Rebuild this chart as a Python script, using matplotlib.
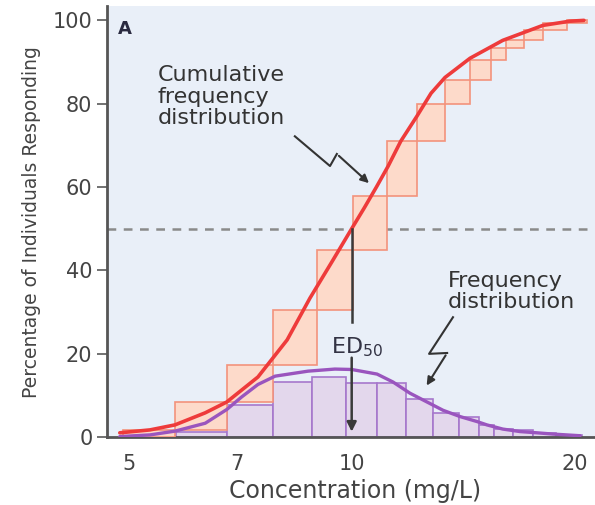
import numpy as np
import matplotlib
matplotlib.use('Agg')
import matplotlib.pyplot as plt
from matplotlib import ticker

# cumulative frequency step boxes: bin edges (mg/L) and running % at the end of each bin
cum_edges = [4.91, 5.77, 6.78, 7.83, 8.97, 10.04, 11.16, 12.25, 13.37, 14.45, 15.42, 16.16, 17.10, 18.13, 19.53, 20.79]
cum_pct = [1.7, 8.4, 17.2, 30.5, 45.0, 57.8, 71.0, 80.0, 85.6, 90.6, 93.3, 95.4, 97.8, 99.3, 100.0]

# frequency distribution bars
freq_edges = [4.91, 5.79, 6.78, 7.83, 8.84, 9.83, 10.82, 11.84, 12.88, 13.96, 14.86, 15.57, 16.52, 17.58, 18.88, 20.47]
freq_pct = [0.3, 1.2, 7.7, 13.2, 14.4, 13.0, 13.0, 9.1, 5.8, 4.8, 2.9, 1.9, 1.7, 1.0, 0.4]

# smooth curves
sig_conc = [4.86, 5.34, 5.77, 6.34, 6.78, 7.47, 8.18, 8.78, 9.4, 10.0, 10.4, 10.8, 11.2, 11.65, 12.25, 12.8, 13.37, 14.45, 16.0, 18.13, 19.7, 20.6]
sig_pct = [1.0, 1.7, 2.9, 5.8, 8.4, 14.4, 23.3, 33.3, 42.0, 50.0, 55.0, 60.0, 65.0, 71.0, 77.0, 82.5, 86.3, 90.9, 95.2, 98.8, 99.8, 100.0]

bell_conc = [4.86, 5.34, 5.77, 6.34, 6.78, 7.10, 7.47, 7.88, 8.73, 9.49, 10.0, 10.82, 11.37, 11.99, 12.64, 13.29, 14.01, 14.77, 15.23, 16.0, 16.88, 17.80, 18.7, 20.35]
bell_pct = [0.1, 0.5, 1.4, 3.3, 6.6, 9.6, 12.6, 14.6, 15.8, 16.3, 16.2, 15.1, 13.2, 10.5, 8.4, 6.4, 4.9, 3.7, 2.9, 1.9, 1.3, 1.0, 0.7, 0.3]

x_ticks = [5, 7, 10, 20]
y_ticks = [0, 20, 40, 60, 80, 100]
ed50 = 10

fig = plt.figure(figsize=(5.95, 5.05), dpi=100)
ax = fig.add_axes([0.1798, 0.1347, 0.8202, 0.853])
ax.set_facecolor('#E9EFF8')
ax.set_xscale('log')
ax.set_xlim(4.67, 21.32)
ax.set_ylim(0, 103.4)

# dashed 50 % line sits behind the boxes
ax.axhline(50, color='#8a8a8a', lw=1.8, ls=(0, (3.5, 3)), zorder=1)

fw = np.diff(freq_edges)
ax.bar(freq_edges[:-1], freq_pct, width=fw, align='edge', color='#E3D7EC',
       edgecolor='#A678CC', linewidth=1.2, zorder=2)

cw = np.diff(cum_edges)
bottoms = [0] + cum_pct[:-1]
heights = np.array(cum_pct) - np.array(bottoms)
ax.bar(cum_edges[:-1], heights, width=cw, bottom=bottoms, align='edge', color='#FDDACA',
       edgecolor='#F3937C', linewidth=1.2, zorder=3)

ax.plot(bell_conc, bell_pct, color='#9A55BE', lw=2.4, zorder=4, solid_capstyle='round', solid_joinstyle='round')
ax.plot(sig_conc, sig_pct, color='#EE3B3B', lw=2.6, zorder=5, solid_capstyle='round', solid_joinstyle='round')

# ED50 arrow, broken around its label
ax.plot([ed50, ed50], [50, 27.6], color='#3a3a3a', lw=1.8, zorder=6)
ax.annotate('', xy=(ed50, 0.6), xytext=(ed50, 19.7),
            arrowprops=dict(arrowstyle='-|>', color='#3a3a3a', lw=1.8, mutation_scale=14), zorder=6)
ax.text(0.459, 0.195, r'ED$_{50}$', transform=ax.transAxes, fontsize=16, color='#333344',
        va='baseline', ha='left', zorder=7)

# labels with zig-zag leaders
ax.text(0.1045, 0.863, 'Cumulative\nfrequency\ndistribution', transform=ax.transAxes,
        fontsize=16, color='#333333', va='top', ha='left', linespacing=1.08)
ax.plot([0.385, 0.457, 0.471], [0.698, 0.629, 0.657], transform=ax.transAxes, color='#333333', lw=1.5)
ax.annotate('', xy=(0.541, 0.585), xytext=(0.471, 0.657), xycoords='axes fraction',
            arrowprops=dict(arrowstyle='-|>', color='#333333', lw=1.5, mutation_scale=12))

ax.text(0.699, 0.385, 'Frequency\ndistribution', transform=ax.transAxes,
        fontsize=16, color='#333333', va='top', ha='left', linespacing=1.08)
ax.plot([0.709, 0.660, 0.697], [0.278, 0.193, 0.195], transform=ax.transAxes, color='#333333', lw=1.5)
ax.annotate('', xy=(0.652, 0.114), xytext=(0.697, 0.195), xycoords='axes fraction',
            arrowprops=dict(arrowstyle='-|>', color='#333333', lw=1.5, mutation_scale=12))

ax.text(0.0225, 0.969, 'A', transform=ax.transAxes, fontsize=13, fontweight='bold',
        color='#2a2a40', va='top', ha='left')

# axes styling
for s in ['top', 'right']:
    ax.spines[s].set_visible(False)
for s in ['left', 'bottom']:
    ax.spines[s].set_color('#555555')
    ax.spines[s].set_linewidth(2)

ax.xaxis.set_major_locator(ticker.FixedLocator(x_ticks))
ax.xaxis.set_minor_locator(ticker.NullLocator())
ax.xaxis.set_major_formatter(ticker.FixedFormatter([str(t) for t in x_ticks]))
ax.set_yticks(y_ticks)
ax.tick_params(axis='x', length=0, pad=12, labelsize=15, labelcolor='#444444')
ax.tick_params(axis='y', length=7, width=1.3, color='#666666', pad=3.5, labelsize=15, labelcolor='#444444')

ax.set_xlabel('Concentration (mg/L)', fontsize=17, color='#444444')
ax.xaxis.set_label_coords(0.508, -0.098)
ax.set_ylabel('Percentage of Individuals Responding', fontsize=13.5, color='#444444')
ax.yaxis.set_label_coords(-0.135, 0.5)

fig.savefig('out.png', dpi=100)
